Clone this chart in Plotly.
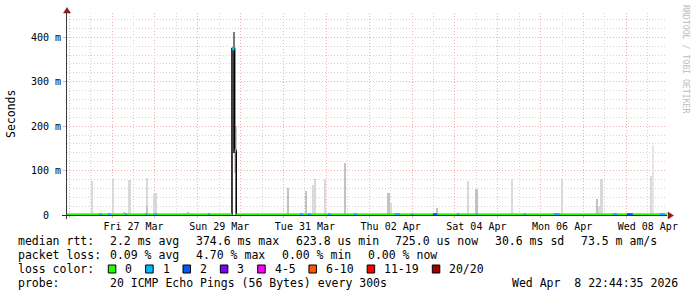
import plotly.graph_objects as go
import pandas as pd

# ---------------- data ----------------
start_time = "2026-03-25 22:44:35"
end_time = "2026-04-08 22:44:35"

label_days = ["2026-03-27 12:00", "2026-03-29 12:00", "2026-03-31 12:00", "2026-04-02 12:00",
              "2026-04-04 12:00", "2026-04-06 12:00", "2026-04-08 12:00"]
label_text = ["Fri 27 Mar", "Sun 29 Mar", "Tue 31 Mar", "Thu 02 Apr", "Sat 04 Apr", "Mon 06 Apr", "Wed 08 Apr"]

y_tick_ms = [0, 100, 200, 300, 400]
y_tick_text = ["0\u00a0\u00a0", "100 m", "200 m", "300 m", "400 m"]

# light smoke (max ping spread, ms)
light_t = ["2026-03-26 07:00", "2026-03-26 12:55", "2026-03-27 00:40", "2026-03-27 09:50",
           "2026-03-27 19:42", "2026-03-27 23:38", "2026-03-28 00:45", "2026-03-31 16:38",
           "2026-03-31 17:45", "2026-03-31 23:12", "2026-04-02 12:00", "2026-04-02 14:25",
           "2026-04-04 07:15", "2026-04-05 08:05", "2026-04-06 12:05", "2026-04-07 09:00",
           "2026-04-07 10:15", "2026-04-08 14:15"]
light_ms = [4, 76, 81, 79, 83, 47, 50, 67, 81, 81, 27, 3, 76, 81, 81, 21, 81, 88]

# faint smoke
faint_t = ["2026-04-08 15:00"]
faint_ms = [157]

# medium smoke
mid_t = ["2026-03-27 06:50", "2026-03-27 19:42", "2026-03-28 18:40", "2026-03-31 02:50",
         "2026-03-31 12:55", "2026-04-01 10:25", "2026-04-02 10:52", "2026-04-03 14:05",
         "2026-04-04 12:08", "2026-04-07 07:52"]
mid_ms = [7, 19, 7, 61, 54, 118, 49, 16, 58, 36]

# big spike smoke bands (ms)
spike_t = ["2026-03-29 21:06", "2026-03-29 20:22", "2026-03-29 20:22"]
spike_lo = [95, 140, 370]
spike_hi = [200, 370, 411]

# median rtt (ms) with loss count per step
median_t = ["2026-03-25 22:44:35", "2026-03-29 19:08", "2026-03-29 20:38", "2026-03-29 21:30",
            "2026-04-08 22:44:35"]
median_ms = [0.73, 374.6, 145.0, 0.73, 0.73]
median_loss = [0, 1, 0, 0, 0]

# baseline periods with packet loss
loss_start = ["2026-03-26 16:40", "2026-03-26 21:40", "2026-03-27 07:10", "2026-03-27 18:25",
              "2026-03-27 23:30", "2026-03-29 05:40", "2026-03-31 09:10", "2026-03-31 13:40",
              "2026-04-01 00:55", "2026-04-01 15:25", "2026-04-02 14:25", "2026-04-02 23:30",
              "2026-04-03 11:40", "2026-04-04 01:05", "2026-04-04 11:45", "2026-04-05 14:35",
              "2026-04-06 07:25", "2026-04-07 16:25", "2026-04-08 00:15", "2026-04-08 18:45"]
loss_end = ["2026-03-26 18:20", "2026-03-26 23:25", "2026-03-27 08:20", "2026-03-27 19:30",
            "2026-03-28 01:05", "2026-03-29 06:50", "2026-03-31 10:55", "2026-03-31 15:25",
            "2026-04-01 02:35", "2026-04-01 17:05", "2026-04-02 17:10", "2026-04-03 00:30",
            "2026-04-03 14:00", "2026-04-04 02:15", "2026-04-04 12:45", "2026-04-05 15:40",
            "2026-04-06 10:45", "2026-04-07 18:40", "2026-04-08 03:35", "2026-04-08 21:35"]
loss_n = [1, 1, 1, 1, 1, 1, 1, 1, 1, 1, 1, 1, 2, 1, 1, 1, 1, 1, 2, 1]

loss_labels = ["0", "1", "2", "3", "4-5", "6-10", "11-19", "20/20"]
loss_colors = ["#26ff00", "#00b8ff", "#0059ff", "#7e00ff", "#ff00ff", "#ff5500", "#ff0000", "#a00000"]

rtt_title = "median rtt:"
rtt_items = ["2.2 ms avg", "374.6 ms max", "623.8 us min", "725.0 us now", "30.6 ms sd", "73.5 m am/s"]
loss_title = "packet loss:"
loss_items = ["0.09 % avg", "4.70 % max", "0.00 % min", "0.00 % now"]
color_title = "loss color:"
probe_title = "probe:"
probe_text = "20 ICMP Echo Pings (56 Bytes) every 300s"
line_date = "Wed Apr  8 22:44:35 2026"
watermark = "RRDTOOL / TOBI OETIKER"

# ---------------- layout constants ----------------
W, H = 697, 297
PL, PT, PW, PH = 67, 13, 600, 202
YMAX = 454.7
MONO = "DejaVu Sans Mono"
GRID_MINOR = "#d4d4d4"
GRID_MAJOR = "#efb0b0"
DASH = "1px,2px"
ARROW = "#8b1c1c"
AXIS = "#1e2a26"


def xp(px):
    return (px - PL) / PW


def yp(py):
    return (PT + PH - py) / PH


def nb(s):
    return s.replace(" ", "\u00a0")


fig = go.Figure()

BW = 3600 * 1000
fig.add_trace(go.Bar(x=light_t, y=light_ms, width=BW, marker=dict(color="#d9d9d9", line_width=0),
                     showlegend=False, hoverinfo="skip"))
fig.add_trace(go.Bar(x=faint_t, y=faint_ms, width=BW * 0.6, marker=dict(color="#e6e6e6", line_width=0),
                     showlegend=False, hoverinfo="skip"))
fig.add_trace(go.Bar(x=mid_t, y=mid_ms, width=BW, marker=dict(color="#c2c2c2", line_width=0),
                     showlegend=False, hoverinfo="skip"))
spike_colors = ["#cfcfcf", "#3a3a3a", "#7c7c7c"]
for t, lo, hi, c in zip(spike_t, spike_lo, spike_hi, spike_colors):
    fig.add_trace(go.Bar(x=[t], base=[lo], y=[hi - lo], width=BW * 1.4,
                         marker=dict(color=c, line_width=0), showlegend=False, hoverinfo="skip"))

# thin black median line
fig.add_trace(go.Scatter(x=median_t, y=median_ms, mode="lines", line=dict(color="#000000", width=1.5, shape="hv"),
                         showlegend=False, hoverinfo="skip"))

# colored median segments
segs = {}
for i in range(len(median_t) - 1):
    segs.setdefault(median_loss[i], []).append((median_t[i], median_t[i + 1], median_ms[i]))
base_val = median_ms[-1]
for s, e, n in zip(loss_start, loss_end, loss_n):
    segs.setdefault(n, []).append((s, e, base_val))
for n in sorted(segs):
    xs, ys = [], []
    for s, e, v in segs[n]:
        xs += [s, e, None]
        ys += [v, v, None]
    fig.add_trace(go.Scatter(x=xs, y=ys, mode="lines", line=dict(color=loss_colors[n], width=3),
                             showlegend=False, hoverinfo="skip"))

# dummy traces for helper axes (labels, minor grids)
fig.add_trace(go.Scatter(x=[start_time, end_time], y=[None, None], xaxis="x2", yaxis="y", mode="lines",
                         showlegend=False, hoverinfo="skip"))
fig.add_trace(go.Scatter(x=[start_time, end_time], y=[None, None], xaxis="x3", yaxis="y", mode="lines",
                         showlegend=False, hoverinfo="skip"))
fig.add_trace(go.Scatter(x=[start_time, end_time], y=[None, None], xaxis="x", yaxis="y2", mode="lines",
                         showlegend=False, hoverinfo="skip"))

midnights = [d.strftime("%Y-%m-%d %H:%M") for d in pd.date_range("2026-03-26", "2026-04-08", freq="D")]
noons = [d.strftime("%Y-%m-%d %H:%M") for d in pd.date_range("2026-03-26 12:00", "2026-04-08 12:00", freq="D")]
y_minor = [v for v in range(20, int(YMAX), 20) if v % 100]

fig.update_layout(
    width=W, height=H,
    margin=dict(l=PL, r=W - PL - PW, t=PT, b=H - PT - PH, pad=0),
    paper_bgcolor="white", plot_bgcolor="white",
    barmode="overlay", bargap=0,
    font=dict(family=MONO, size=10, color="black"),
    xaxis=dict(type="date", range=[start_time, end_time], tickmode="array", tickvals=midnights,
               showticklabels=False, showgrid=True, gridcolor=GRID_MAJOR, griddash=DASH, gridwidth=1,
               ticks="outside", ticklen=2, tickcolor=GRID_MAJOR,
               showline=True, linecolor=AXIS, linewidth=1, zeroline=False, fixedrange=True),
    xaxis3=dict(type="date", range=[start_time, end_time], overlaying="x", anchor="y", side="bottom",
                tickmode="array", tickvals=noons, showticklabels=False, showgrid=True,
                gridcolor=GRID_MINOR, griddash=DASH, gridwidth=1, ticks="", showline=False, zeroline=False),
    xaxis2=dict(type="date", range=[start_time, end_time], overlaying="x", anchor="y", side="bottom",
                tickmode="array", tickvals=label_days, ticktext=label_text, showgrid=False,
                showline=False, zeroline=False, ticks="", ticklabelstandoff=4,
                tickfont=dict(family=MONO, size=10, color="black")),
    yaxis=dict(range=[0, YMAX], tickmode="array", tickvals=y_tick_ms, ticktext=y_tick_text,
               showgrid=True, gridcolor=GRID_MAJOR, griddash=DASH, gridwidth=1,
               ticks="outside", ticklen=3, tickcolor=GRID_MAJOR,
               showline=True, linecolor="#3a3a3a", linewidth=1, zeroline=False,
               tickfont=dict(family=MONO, size=10, color="black"), fixedrange=True),
    yaxis2=dict(range=[0, YMAX], overlaying="y", anchor="x", side="left", tickmode="array",
                tickvals=y_minor, showticklabels=False, showgrid=True, gridcolor=GRID_MINOR,
                griddash=DASH, gridwidth=1, ticks="", showline=False, zeroline=False),
)

ann = []
ann.append(dict(x=xp(11), y=yp(114), xref="paper", yref="paper", text="Seconds", textangle=-90,
                showarrow=False, font=dict(family=MONO, size=11.5, color="black"),
                xanchor="center", yanchor="middle"))
ann.append(dict(x=xp(686), y=yp(59), xref="paper", yref="paper", text=nb(watermark), textangle=90,
                showarrow=False, font=dict(family=MONO, size=8.2, color="#bdbdbd"),
                xanchor="center", yanchor="middle"))

LX = 16.4
VX = 107.6
CW = 6.95
GAP = 16.5
rows_y = [241, 255, 269, 283]
LF = dict(family=MONO, size=11.5, color="black")


def text_at(x, y, s, anchor="left"):
    ann.append(dict(x=xp(x), y=yp(y), xref="paper", yref="paper", text=nb(s), showarrow=False,
                    font=LF, xanchor=anchor, yanchor="middle"))


def item_row(title, items, y):
    text_at(LX, y, title)
    x = VX
    for it in items:
        text_at(x, y, it)
        x += len(it) * CW + GAP


item_row(rtt_title, rtt_items, rows_y[0])
item_row(loss_title, loss_items, rows_y[1])
text_at(LX, rows_y[2], color_title)
text_at(LX, rows_y[3], probe_title)
text_at(VX, rows_y[3], probe_text)
text_at(680, rows_y[3], line_date, anchor="right")

shapes = []
bx = 108.3
for lab, col in zip(loss_labels, loss_colors):
    shapes.append(dict(type="rect", xref="paper", yref="paper", x0=xp(bx), x1=xp(bx + 7.5),
                       y0=yp(rows_y[2] + 4), y1=yp(rows_y[2] - 4), fillcolor=col,
                       line=dict(color="black", width=1)))
    text_at(bx + 15, rows_y[2], lab)
    bx = bx + 15 + len(lab) * CW + 15.4

# axis extensions past the origin
shapes.append(dict(type="line", xref="paper", yref="paper", x0=xp(62), x1=xp(67), y0=yp(215.5), y1=yp(215.5),
                   line=dict(color=AXIS, width=1)))
shapes.append(dict(type="line", xref="paper", yref="paper", x0=xp(66.5), x1=xp(66.5), y0=yp(215), y1=yp(219),
                   line=dict(color="#3a3a3a", width=1)))

# axis arrows
shapes.append(dict(type="path", xref="paper", yref="paper",
                   path=f"M {xp(67)} {yp(7.5)} L {xp(63.5)} {yp(13)} L {xp(70.5)} {yp(13)} Z",
                   fillcolor=ARROW, line=dict(color=ARROW, width=0.5)))
shapes.append(dict(type="path", xref="paper", yref="paper",
                   path=f"M {xp(673.5)} {yp(215.5)} L {xp(668)} {yp(212)} L {xp(668)} {yp(219)} Z",
                   fillcolor=ARROW, line=dict(color=ARROW, width=0.5)))

fig.update_layout(annotations=ann, shapes=shapes)
fig.write_html("out.html")
